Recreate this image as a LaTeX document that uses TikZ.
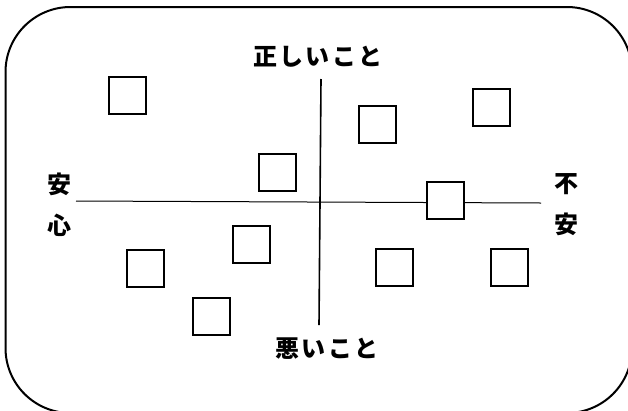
\documentclass[tikz,border=0pt]{standalone}
\usepackage{fontspec}
\newfontfamily\jp{Noto Sans CJK JP}[LetterSpace=9]
\begin{document}
\begin{tikzpicture}[x=1pt,y=-1pt,
  box/.style={draw,fill=white,line width=2pt,minimum size=37pt,inner sep=0pt},
  lab/.style={font=\jp\bfseries\fontsize{24}{41}\selectfont,inner sep=0pt,align=center}]
\useasboundingbox (0,0) rectangle (628,410);
\draw[line width=2pt,rounded corners=65pt] (5.5,7) rectangle (632,413);
\coordinate (vt) at (321,79);
\coordinate (vb) at (319,325);
\coordinate (hl) at (76,201);
\coordinate (hr) at (541,203);
\draw[line width=1.6pt] (vt) -- (vb);
\draw[line width=1pt] (hl) -- (hr);
\node[box] (s1) at (127,95) {};
\node[box] (s2) at (377,124) {};
\node[box] (s3) at (491,107) {};
\node[box] (s4) at (277,172) {};
\node[box] (s5) at (445,200) {};
\node[box] (s6) at (251,244) {};
\node[box] (s7) at (145,268) {};
\node[box] (s8) at (394.5,267.5) {};
\node[box] (s9) at (509,267.5) {};
\node[box] (s10) at (211,316) {};
\node[lab] (top) at (318,57) {正しいこと};
\node[lab] (bot) at (327,349) {悪いこと};
\node[lab] (left) at (59,205) {安\\心};
\node[lab] (right) at (566,205) {不\\安};
\end{tikzpicture}
\end{document}
